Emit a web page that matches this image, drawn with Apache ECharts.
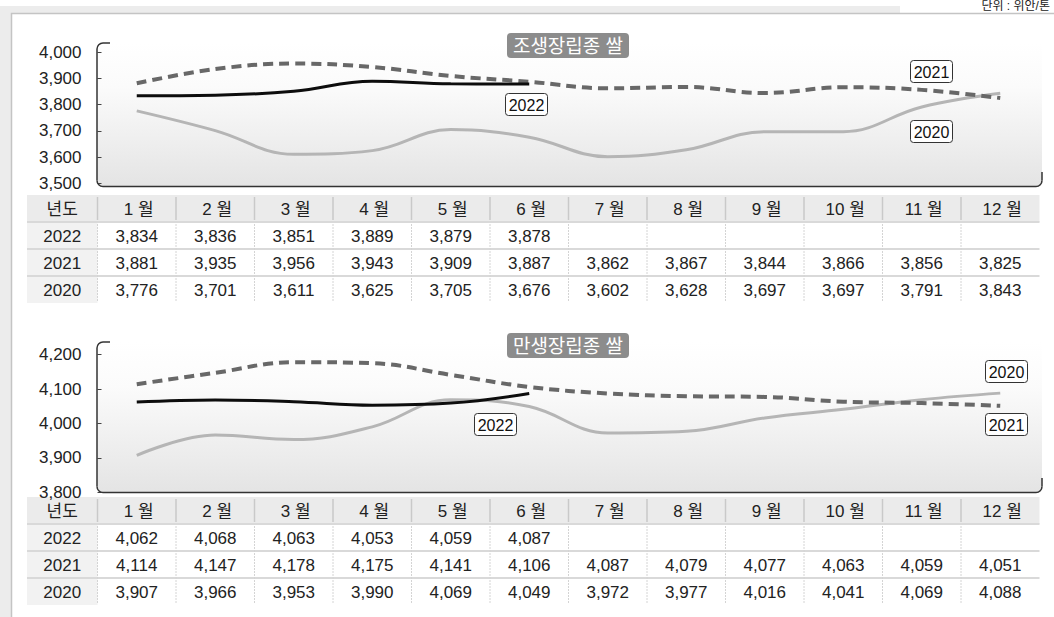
<!DOCTYPE html>
<html>
<head>
<meta charset="utf-8">
<script src="https://cdn.jsdelivr.net/npm/echarts@6/dist/echarts.min.js"></script>
<style>
html, body { margin: 0; padding: 0; background: #fff; }
#chart { width: 1054px; height: 617px; }
</style>
</head>
<body>
<div id="chart"></div>
<script>
const months = ['1 월', '2 월', '3 월', '4 월', '5 월', '6 월', '7 월', '8 월', '9 월', '10 월', '11 월', '12 월'];
const years = ['2022', '2021', '2020'];

// 조생장립종 쌀
const early2022 = [3834, 3836, 3851, 3889, 3879, 3878];
const early2021 = [3881, 3935, 3956, 3943, 3909, 3887, 3862, 3867, 3844, 3866, 3856, 3825];
const early2020 = [3776, 3701, 3611, 3625, 3705, 3676, 3602, 3628, 3697, 3697, 3791, 3843];
const earlyTicks = [3500, 3600, 3700, 3800, 3900, 4000];

// 만생장립종 쌀
const late2022 = [4062, 4068, 4063, 4053, 4059, 4087];
const late2021 = [4114, 4147, 4178, 4175, 4141, 4106, 4087, 4079, 4077, 4063, 4059, 4051];
const late2020 = [3907, 3966, 3953, 3990, 4069, 4049, 3972, 3977, 4016, 4041, 4069, 4088];
const lateTicks = [3800, 3900, 4000, 4100, 4200];

const FONT = '"Liberation Sans", "Noto Sans CJK KR", sans-serif';

const chart = echarts.init(document.getElementById('chart'), null, { renderer: 'svg' });

function yAxis(grid, ticks) {
  return {
    type: 'value',
    gridIndex: grid,
    min: ticks[0],
    max: ticks[ticks.length - 1],
    interval: ticks[1] - ticks[0],
    axisLine: { show: false },
    axisTick: { show: true, inside: true, length: 4, lineStyle: { color: '#444', width: 1 } },
    splitLine: { show: false },
    axisLabel: {
      margin: 16,
      fontSize: 17,
      color: '#222',
      fontFamily: FONT,
      formatter: v => v.toLocaleString('en-US')
    }
  };
}

function xAxis(grid) {
  return {
    type: 'category',
    gridIndex: grid,
    data: months,
    boundaryGap: true,
    axisLine: { show: false },
    axisTick: { show: false },
    axisLabel: { show: false }
  };
}

const styles = {
  y2022: { color: '#0d0d0d', width: 3 },
  y2021: { color: '#686868', width: 4, type: [10, 6] },
  y2020: { color: '#b5b5b5', width: 3 }
};

function line(data, grid, style, z) {
  return {
    type: 'line',
    xAxisIndex: grid,
    yAxisIndex: grid,
    data: data,
    smooth: 0.4,
    symbol: 'none',
    silent: true,
    lineStyle: style,
    z: z
  };
}

chart.setOption({
  animation: false,
  grid: [
    { left: 97.5, width: 942, top: 52, height: 131.5 },
    { left: 97.5, width: 942, top: 354.6, height: 137.6 }
  ],
  xAxis: [xAxis(0), xAxis(1)],
  yAxis: [yAxis(0, earlyTicks), yAxis(1, lateTicks)],
  series: [
    line(early2020, 0, styles.y2020, 2),
    line(early2021, 0, styles.y2021, 3),
    line(early2022, 0, styles.y2022, 4),
    line(late2020, 1, styles.y2020, 2),
    line(late2021, 1, styles.y2021, 3),
    line(late2022, 1, styles.y2022, 4)
  ]
});

// 프레임, 라벨, 표
const els = [];

function txt(text, x, y, size, color, align) {
  return {
    type: 'text',
    z: 120,
    style: {
      text: text, x: x, y: y,
      font: size + 'px ' + FONT,
      fill: color,
      align: align || 'center', textAlign: align || 'center',
      verticalAlign: 'middle', textVerticalAlign: 'middle'
    }
  };
}

// page frame
els.push({ type: 'rect', z: -20, shape: { x: 0, y: 6, width: 900, height: 7 }, style: { fill: '#ececec' } });
els.push({ type: 'rect', z: -20, shape: { x: 0, y: 6, width: 11, height: 611 }, style: { fill: '#ececec' } });
els.push({ type: 'polyline', z: -19, shape: { points: [[11.5, 617], [11.5, 13.5], [1054, 13.5]] }, style: { stroke: '#c4c4c4', lineWidth: 1.5, fill: null } });
els.push(txt('단위 : 위안/톤', 1050, 6, 12, '#222', 'right'));

function frame(top, bottom, rightTop) {
  const L = 97, R = 1042, r = 6;
  const st = { stroke: '#333', lineWidth: 1.5, fill: null };
  els.push({
    type: 'rect', z: -10,
    shape: { x: L, y: top, width: R - L, height: bottom - top, r: [r, 0, r, r] },
    style: {
      fill: new echarts.graphic.LinearGradient(0, 0, 0, 1, [
        { offset: 0, color: '#ffffff' },
        { offset: 0.3, color: '#fbfbfb' },
        { offset: 1, color: '#e4e4e4' }
      ])
    }
  });
  els.push({ type: 'line', z: 10, shape: { x1: L + r, y1: top, x2: L + 13, y2: top }, style: st });
  els.push({ type: 'arc', z: 10, shape: { cx: L + r, cy: top + r, r: r, startAngle: Math.PI, endAngle: Math.PI * 1.5, clockwise: true }, style: st });
  els.push({ type: 'line', z: 10, shape: { x1: L, y1: top + r, x2: L, y2: bottom - r }, style: st });
  els.push({ type: 'arc', z: 10, shape: { cx: L + r, cy: bottom - r, r: r, startAngle: Math.PI / 2, endAngle: Math.PI, clockwise: true }, style: st });
  els.push({ type: 'line', z: 10, shape: { x1: L + r, y1: bottom, x2: R - r, y2: bottom }, style: st });
  els.push({ type: 'arc', z: 10, shape: { cx: R - r, cy: bottom - r, r: r, startAngle: 0, endAngle: Math.PI / 2, clockwise: true }, style: st });
  els.push({ type: 'line', z: 10, shape: { x1: R, y1: bottom - r, x2: R, y2: rightTop }, style: st });
}

function titleBox(text, x, y) {
  els.push({ type: 'rect', z: 110, shape: { x: x, y: y, width: 122, height: 25, r: 4 }, style: { fill: '#8c8c8c' } });
  els.push(txt(text, x + 61, y + 13, 19, '#fff'));
}

function tag(text, x, y) {
  els.push({ type: 'rect', z: 110, shape: { x: x + 0.5, y: y + 0.5, width: 42, height: 22, r: 3 }, style: { fill: '#fff', stroke: '#333', lineWidth: 1 } });
  els.push(txt(text, x + 21.5, y + 12, 16, '#111'));
}

function table(grid, top, rows) {
  const cx = months.map(m => chart.convertToPixel({ xAxisIndex: grid }, m));
  const w = cx[1] - cx[0];
  const left0 = 27, left1 = cx[0] - w / 2, right = cx[cx.length - 1] + w / 2;
  const h = 27;
  // header & year column background
  els.push({ type: 'rect', z: -5, shape: { x: left0, y: top, width: right - left0, height: h }, style: { fill: '#ebebeb' } });
  els.push({ type: 'rect', z: -5, shape: { x: left0, y: top + h, width: left1 - left0, height: h * 3 }, style: { fill: '#f2f2f2' } });
  for (let k = 1; k <= 3; k++) {
    els.push({ type: 'line', z: -4, shape: { x1: left0, y1: top + h * k, x2: right, y2: top + h * k }, style: { stroke: '#d9d9d9', lineWidth: 2 } });
  }
  // vertical separators
  const xs = [left1].concat(cx.slice(0, -1).map(c => c + w / 2));
  xs.forEach(x => {
    els.push({ type: 'line', z: -4, shape: { x1: x, y1: top + 2, x2: x, y2: top + h - 2 }, style: { stroke: '#c9c9c9', lineWidth: 1.5 } });
    els.push({ type: 'line', z: -4, shape: { x1: x, y1: top + h + 2, x2: x, y2: top + h * 4 - 2 }, style: { stroke: '#d4d4d4', lineWidth: 1, lineDash: [2, 1] } });
  });
  els.push(txt('년도', (left0 + left1) / 2, top + h / 2 + 0.5, 17, '#222'));
  months.forEach((m, i) => els.push(txt(m, cx[i] + 2, top + h / 2 + 0.5, 17, '#222')));
  rows.forEach((vals, r) => {
    const y = top + h * (r + 1) + h / 2 + 0.5;
    els.push(txt(years[r], (left0 + left1) / 2, y, 17, '#222'));
    vals.forEach((v, i) => els.push(txt(v.toLocaleString('en-US'), cx[i], y, 17, '#222')));
  });
}

frame(43, 186.5, 172);
titleBox('조생장립종 쌀', 507, 33);
tag('2021', 910, 60);
tag('2022', 505, 93);
tag('2020', 910, 120);
table(0, 195, [early2022, early2021, early2020]);

frame(342, 492.5, 478);
titleBox('만생장립종 쌀', 507, 333);
tag('2020', 985, 360);
tag('2022', 474, 413);
tag('2021', 985, 413);
table(1, 497, [late2022, late2021, late2020]);

chart.setOption({ graphic: { elements: els } });
</script>
</body>
</html>
